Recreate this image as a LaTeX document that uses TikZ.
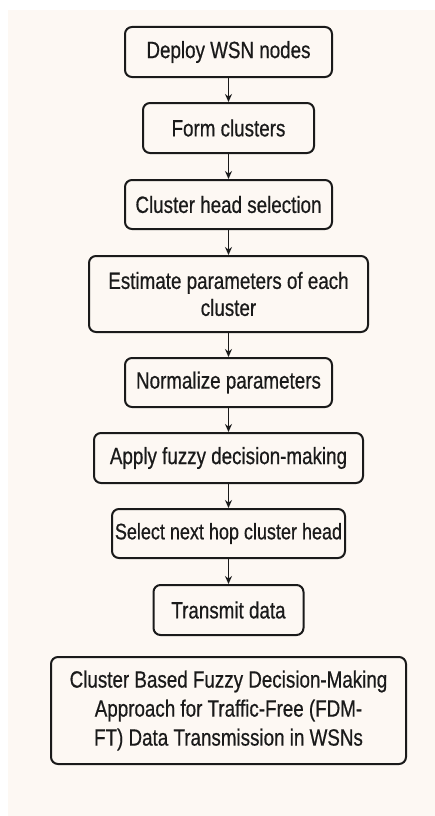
\documentclass[tikz,border=0pt]{standalone}
\usepackage{fontspec}
\setmainfont{Liberation Sans}[FakeStretch=0.8,FakeBold=0.6]
\usetikzlibrary{arrows.meta}
\definecolor{bgcream}{HTML}{FDF8F3}
\definecolor{ink}{HTML}{1A1A1A}
\begin{document}
\begin{tikzpicture}[x=1pt,y=-1pt,
  stepbox/.style={draw=ink, line width=2pt, rounded corners=7pt, fill=bgcream,
    text=ink, inner sep=0pt, align=center,
    font=\fontsize{23.5}{27}\selectfont},
  flow/.style={draw=ink, line width=1.6pt, -{Stealth[length=8pt,width=7pt]}}]
\useasboundingbox (0,0) rectangle (435,816);
\fill[white] (0,0) rectangle (435,816);
\fill[bgcream] (8,10) rectangle (435,816);
\node[stepbox, minimum width=207pt, minimum height=50pt] (b1) at (228.5,52) {Deploy WSN nodes};
\node[stepbox, minimum width=171pt, minimum height=50pt] (b2) at (228.5,128) {Form clusters};
\node[stepbox, minimum width=207pt, minimum height=49pt] (b3) at (228.5,204.5) {Cluster head selection};
\node[stepbox, minimum width=279pt, minimum height=76pt] (b4) at (228.5,294) {Estimate parameters of each\\cluster};
\node[stepbox, minimum width=207pt, minimum height=49pt] (b5) at (228.5,382.5) {Normalize parameters};
\node[stepbox, minimum width=269pt, minimum height=50pt] (b6) at (228.5,458) {Apply fuzzy decision-making};
\node[stepbox, minimum width=233pt, minimum height=49pt, font=\fontsize{22.5}{27}\selectfont] (b7) at (228.5,533.5) {Select next hop cluster head};
\node[stepbox, minimum width=150pt, minimum height=50pt] (b8) at (228.5,610) {Transmit data};
\node[stepbox, minimum width=355pt, minimum height=107pt, font=\fontsize{23.5}{29}\selectfont] (b9) at (228.5,710.5) {Cluster Based Fuzzy Decision-Making\\Approach for Traffic-Free (FDM-\\FT) Data Transmission in WSNs};
\draw[flow] (b1) -- (b2);
\draw[flow] (b2) -- (b3);
\draw[flow] (b3) -- (b4);
\draw[flow] (b4) -- (b5);
\draw[flow] (b5) -- (b6);
\draw[flow] (b6) -- (b7);
\draw[flow] (b7) -- (b8);
\end{tikzpicture}
\end{document}
